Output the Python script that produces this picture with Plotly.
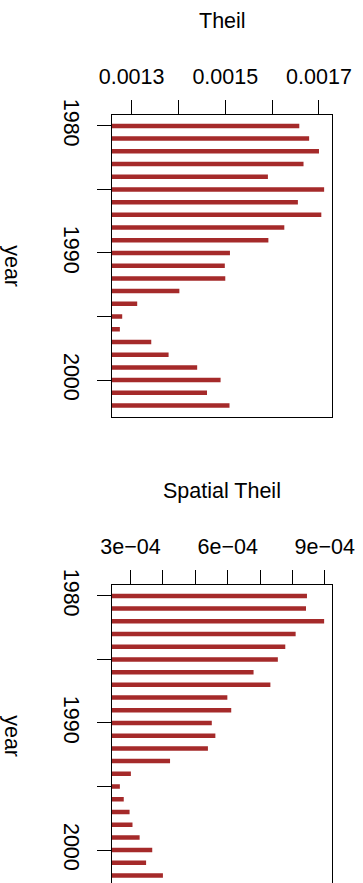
import plotly.graph_objects as go

years = list(range(1980, 2003))
theil = [0.001658, 0.001679, 0.001700, 0.001667, 0.001591, 0.001711, 0.001655,
         0.001705, 0.001626, 0.001592, 0.001510, 0.001499, 0.001500, 0.001402,
         0.001312, 0.001280, 0.001275, 0.001342, 0.001379, 0.001440, 0.001490,
         0.001461, 0.001509]
spatial_theil = [8.45e-4, 8.42e-4, 8.98e-4, 8.10e-4, 7.78e-4, 7.55e-4, 6.80e-4,
                 7.32e-4, 5.99e-4, 6.11e-4, 5.51e-4, 5.62e-4, 5.39e-4, 4.22e-4,
                 3.01e-4, 2.67e-4, 2.79e-4, 2.97e-4, 3.06e-4, 3.28e-4, 3.67e-4,
                 3.48e-4, 4.00e-4]

theil_ticks = [0.0013, 0.0014, 0.0015, 0.0016, 0.0017]
theil_ticktext = ["0.0013", "", "0.0015", "", "0.0017"]
spatial_ticks = [3e-4, 4e-4, 5e-4, 6e-4, 7e-4, 8e-4, 9e-4]
spatial_ticktext = ["3e\u221204", "", "", "6e\u221204", "", "", "9e\u221204"]
year_ticks = [1980, 1985, 1990, 1995, 2000]
year_ticktext = ["1980", "", "1990", "", "2000"]

W, H = 363, 883
FONT = "Liberation Sans, Arial, Helvetica, sans-serif"
FS = 21.5
COLOR = "#A52A2A"


def padded(vals):
    lo, hi = min(vals), max(vals)
    d = (hi - lo) * 0.04
    return lo - d, hi + d


def segments(vals, x0):
    xs, ys = [], []
    for y, v in zip(years, vals):
        xs += [x0, v, None]
        ys += [y, y, None]
    return xs, ys


fig = go.Figure()

xr1 = padded(theil)
xr2 = padded(spatial_theil)
yr = padded(years)

x1, y1 = segments(theil, xr1[0])
x2, y2 = segments(spatial_theil, xr2[0])

fig.add_trace(go.Scatter(x=x1, y=y1, mode="lines", line=dict(color=COLOR, width=4.5),
                         xaxis="x", yaxis="y", showlegend=False, hoverinfo="skip"))
fig.add_trace(go.Scatter(x=x2, y=y2, mode="lines", line=dict(color=COLOR, width=4.5),
                         xaxis="x2", yaxis="y2", showlegend=False, hoverinfo="skip"))

px_left, px_right = 111.7, 332.3
top1, bot1 = 114.7, 416.7
top2 = 584.7
full_h = bot1 - top1
# bottom panel extends below the visible page
vis_frac = (H - top2) / full_h
yr2_visible_hi = yr[0] + (yr[1] - yr[0]) * vis_frac

xdom = [px_left / W, px_right / W]

axis_common = dict(ticks="outside", ticklen=14, tickwidth=1.3, tickcolor="black",
                   linecolor="black", linewidth=1.3, showline=True, showgrid=False,
                   zeroline=False, automargin=False,
                   tickfont=dict(family=FONT, size=FS, color="black"))

fig.update_layout(
    width=W, height=H,
    margin=dict(l=0, r=0, t=0, b=0),
    paper_bgcolor="white", plot_bgcolor="white",
    font=dict(family=FONT, size=FS, color="black"),
    xaxis=dict(domain=xdom, anchor="y", side="top", range=list(xr1),
               tickvals=theil_ticks, ticktext=theil_ticktext, mirror=True,
               ticklabelstandoff=7, **axis_common),
    yaxis=dict(domain=[1 - bot1 / H, 1 - top1 / H], anchor="x",
               range=[yr[1], yr[0]], tickvals=year_ticks, ticktext=year_ticktext,
               tickangle=90, mirror=True, ticklabelstandoff=7, **axis_common),
    xaxis2=dict(domain=xdom, anchor="y2", side="top", range=list(xr2),
                tickvals=spatial_ticks, ticktext=spatial_ticktext, mirror=False,
                ticklabelstandoff=7, **axis_common),
    yaxis2=dict(domain=[0, 1 - top2 / H], anchor="x2",
                range=[yr2_visible_hi, yr[0]], tickvals=year_ticks,
                ticktext=year_ticktext, tickangle=90, mirror=True,
                ticklabelstandoff=7, **axis_common),
)

cx = (px_left + px_right) / 2 / W
fig.add_annotation(text="Theil", x=cx, y=1 - 20.7 / H, xref="paper", yref="paper",
                   showarrow=False, xanchor="center", yanchor="middle",
                   font=dict(family=FONT, size=FS))
fig.add_annotation(text="Spatial Theil", x=cx, y=1 - 490.7 / H, xref="paper",
                   yref="paper", showarrow=False, xanchor="center", yanchor="middle",
                   font=dict(family=FONT, size=FS))
for yc in [(top1 + bot1) / 2, top2 + full_h / 2]:
    fig.add_annotation(text="year", x=12.5 / W, y=1 - yc / H, xref="paper",
                       yref="paper", showarrow=False, xanchor="center",
                       yanchor="middle", textangle=90,
                       font=dict(family=FONT, size=FS))

fig.write_html("out.html")
